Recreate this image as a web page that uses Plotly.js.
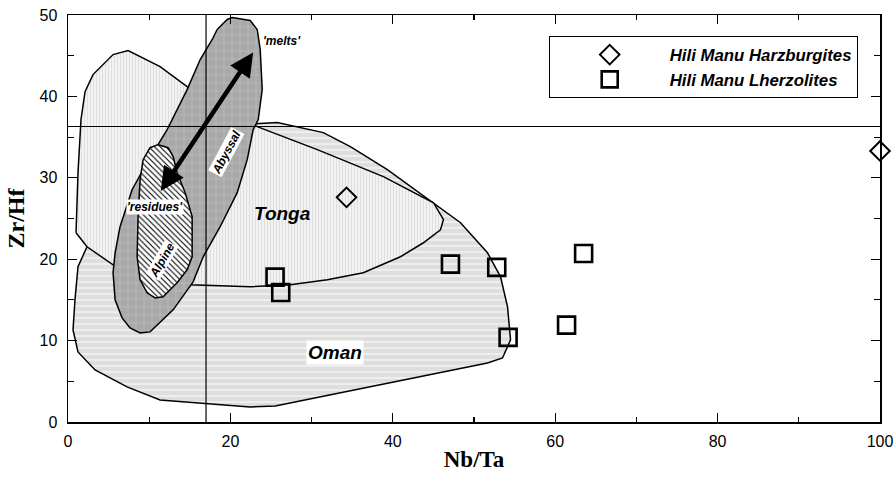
<!DOCTYPE html>
<html>
<head>
<meta charset="utf-8">
<script src="https://cdn.plot.ly/plotly-3.0.1.min.js"></script>
<style>html,body{margin:0;padding:0;background:#fff;}#chart{width:893px;height:477px;}</style>
</head>
<body>
<div id="chart"></div>
<script>
// ---- Field outlines (Nb/Ta, Zr/Hf) ----
const omanX = [2.34, 19.98, 23.06, 25.77, 31.44, 34.77, 39.33, 45.01, 48.34, 51.66, 53.27, 54.13, 54.50, 53.51, 51.66, 25.52, 22.44, 11.34, 7.27, 3.33, 1.23, 0.62, 0.86, 1.23, 2.34];
const omanY = [21.53, 36.78, 36.65, 36.78, 35.55, 33.83, 31.00, 26.94, 24.48, 20.79, 17.84, 14.15, 10.09, 7.87, 7.26, 1.97, 1.85, 2.71, 4.31, 6.40, 8.61, 11.32, 15.01, 19.07, 21.53];

const tongaX = [0.99, 1.23, 1.60, 2.10, 3.08, 5.55, 7.40, 11.34, 14.67, 23.30, 30.70, 38.84, 45.01, 46.24, 45.87, 43.77, 40.94, 36.37, 31.94, 27.37, 22.44, 15.04, 5.55, 2.34, 0.99];
const tongaY = [23.25, 30.63, 37.15, 40.59, 42.68, 45.14, 45.63, 43.67, 41.21, 36.29, 33.46, 30.14, 26.94, 24.85, 23.62, 22.02, 20.30, 18.33, 17.47, 16.85, 16.61, 16.85, 19.31, 21.53, 23.25];

const abyssalX = [18.37, 19.61, 20.22, 22.44, 23.30, 23.67, 23.92, 23.43, 22.81, 22.07, 20.84, 18.74, 16.65, 15.41, 12.95, 11.34, 10.11, 8.88, 7.64, 6.66, 5.80, 5.55, 5.80, 6.41, 7.89, 9.74, 12.21, 14.67, 16.28, 17.76, 18.37];
const abyssalY = [48.22, 49.45, 49.69, 49.32, 48.22, 45.76, 40.84, 37.15, 35.92, 32.23, 28.17, 23.99, 20.30, 17.22, 13.78, 12.18, 11.07, 10.95, 11.56, 12.79, 15.01, 18.33, 20.79, 23.99, 28.54, 31.86, 35.92, 40.84, 44.53, 46.99, 48.22];

const alpineX = [11.10, 12.33, 12.95, 13.44, 14.43, 15.29, 15.29, 14.67, 13.44, 11.71, 10.73, 9.74, 8.88, 8.51, 8.63, 8.88, 9.25, 10.11, 11.10];
const alpineY = [34.07, 33.70, 32.60, 30.63, 28.17, 25.22, 20.30, 18.70, 17.10, 15.38, 15.25, 15.87, 17.47, 20.30, 25.22, 29.77, 32.23, 33.70, 34.07];

// ---- Reference values ----
const refNbTa = 17.0;
const refZrHf = 36.3;

// ---- Samples ----
const harzNbTa = [34.3, 100.0];
const harzZrHf = [27.6, 33.3];
const lherzNbTa = [25.5, 26.2, 47.1, 52.8, 54.2, 61.4, 63.5];
const lherzZrHf = [17.8, 15.9, 19.4, 19.0, 10.4, 11.9, 20.7];

// ---- Arrow ('residues' <-> 'melts') ----
const arrowFrom = [11.3, 28.2];
const arrowTo = [22.8, 45.4];

const FONT = 'Liberation Sans, Arial, sans-serif';
const SERIF = 'Liberation Serif, Times New Roman, serif';

function field(x, y, pattern) {
  return {
    type: 'scatter', mode: 'lines', x: x, y: y, fill: 'toself',
    fillcolor: pattern.bgcolor, fillpattern: pattern,
    line: {color: '#000', width: 1.5}, showlegend: false, hoverinfo: 'skip'
  };
}

const traces = [
  field(omanX, omanY, {shape: '-', bgcolor: '#dedede', fgcolor: '#ffffff', fgopacity: 0.75, size: 6, solidity: 0.22}),
  field(tongaX, tongaY, {shape: '|', bgcolor: '#f2f2f2', fgcolor: '#dddddd', fgopacity: 1, size: 3, solidity: 0.3}),
  field(abyssalX, abyssalY, {shape: '+', bgcolor: '#a9a9a9', fgcolor: '#c8c8c8', fgopacity: 1, size: 8, solidity: 0.1}),
  field(alpineX, alpineY, {shape: '\\', bgcolor: '#ffffff', fgcolor: '#000000', fgopacity: 1, size: 4, solidity: 0.28}),
  {type: 'scatter', mode: 'lines', x: [refNbTa, refNbTa], y: [0, 50], line: {color: '#000', width: 1.2}, showlegend: false, hoverinfo: 'skip'},
  {type: 'scatter', mode: 'lines', x: [0, 100], y: [refZrHf, refZrHf], line: {color: '#000', width: 1.2}, showlegend: false, hoverinfo: 'skip'},
  {type: 'scatter', mode: 'markers', name: '<b><i>Hili Manu Harzburgites</i></b>', x: harzNbTa, y: harzZrHf,
   marker: {symbol: 'diamond-open', size: 15, color: '#000', line: {width: 2, color: '#000'}}, cliponaxis: false},
  {type: 'scatter', mode: 'markers', name: '<b><i>Hili Manu Lherzolites</i></b>', x: lherzNbTa, y: lherzZrHf,
   marker: {symbol: 'square-open', size: 17, color: '#000', line: {width: 2.6, color: '#000'}}, cliponaxis: false}
];

const lab = (t, x, y, size, extra) => Object.assign({
  text: '<b><i>' + t + '</i></b>', x: x, y: y, xref: 'x', yref: 'y', showarrow: false,
  font: {family: FONT, size: size, color: '#000'}
}, extra || {});

const layout = {
  width: 893, height: 477,
  margin: {l: 68, r: 13, t: 15, b: 55},
  paper_bgcolor: '#fff', plot_bgcolor: '#fff',
  showlegend: true,
  legend: {
    x: 0.592, y: 0.948, xanchor: 'left', yanchor: 'top',
    bgcolor: '#fff', bordercolor: '#000', borderwidth: 1,
    font: {family: FONT, size: 16.8, color: '#000'}, itemwidth: 110
  },
  xaxis: {
    range: [0, 100], dtick: 20, ticks: 'inside', ticklen: 9, tickwidth: 1.2, tickcolor: '#000',
    minor: {dtick: 10, ticks: 'inside', ticklen: 5, tickwidth: 1.2, tickcolor: '#000'},
    showline: true, linecolor: '#000', linewidth: 1.5, mirror: 'ticks',
    showgrid: false, zeroline: false, ticklabelstandoff: 4, ticklabeloverflow: 'allow',
    tickfont: {family: FONT, size: 16, color: '#000'},
    title: {text: '<b>Nb/Ta</b>', font: {family: SERIF, size: 23, color: '#000'}, standoff: 2}
  },
  yaxis: {
    range: [0, 50], dtick: 10, ticks: 'inside', ticklen: 9, tickwidth: 1.2, tickcolor: '#000',
    minor: {dtick: 5, ticks: 'inside', ticklen: 6, tickwidth: 1.2, tickcolor: '#000'},
    showline: true, linecolor: '#000', linewidth: 1.5, mirror: 'ticks',
    showgrid: false, zeroline: false, ticklabelstandoff: 6, ticklabeloverflow: 'allow',
    tickfont: {family: FONT, size: 16, color: '#000'},
    title: {text: '<b>Zr/Hf</b>', font: {family: SERIF, size: 24, color: '#000'}, standoff: 8}
  },
  annotations: [
    {x: arrowTo[0], y: arrowTo[1], ax: arrowFrom[0], ay: arrowFrom[1], xref: 'x', yref: 'y', axref: 'x', ayref: 'y',
     text: '', showarrow: true, arrowside: 'end+start', arrowhead: 2, arrowsize: 1.05, arrowwidth: 4.5, arrowcolor: '#000', standoff: 0, startstandoff: 0},
    lab('Tonga', 26.4, 25.6, 19),
    lab('Oman', 32.9, 8.6, 19, {bgcolor: '#fff'}),
    lab("'melts'", 26.4, 46.8, 12),
    lab("'residues'", 10.7, 26.4, 12, {bgcolor: '#fff', borderpad: 0}),
    lab('Abyssal', 19.5, 33.2, 12, {bgcolor: '#fff', textangle: -62, borderpad: 0}),
    lab('Alpine', 11.6, 19.9, 12, {bgcolor: '#fff', textangle: -60, borderpad: 0})
  ]
};

Plotly.newPlot('chart', traces, layout, {displayModeBar: false, staticPlot: true});
</script>
</body>
</html>
